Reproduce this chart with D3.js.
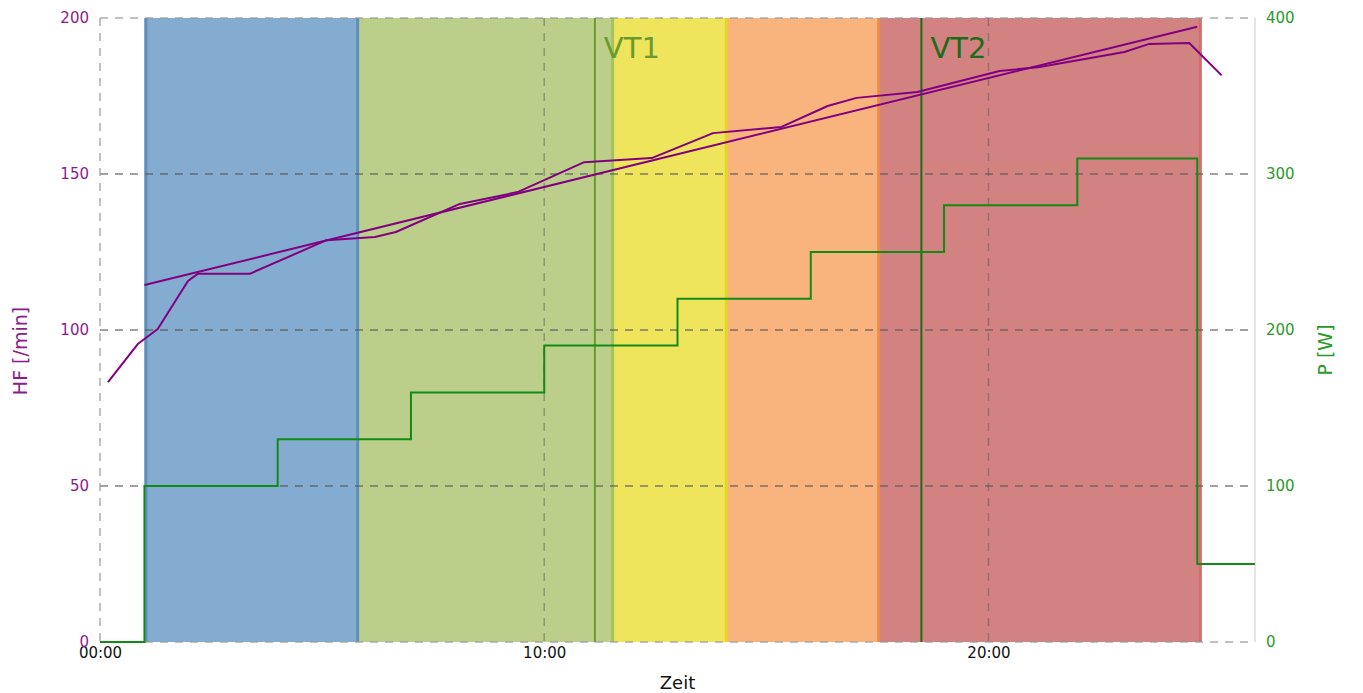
<!DOCTYPE html>
<html>
<head>
<meta charset="utf-8">
<script src="https://cdn.jsdelivr.net/npm/d3@7"></script>
<style>
  body { margin: 0; background: #fff; }
  svg { display: block; font-family: "DejaVu Sans", Verdana, sans-serif; }
</style>
</head>
<body>
<svg id="chart" width="1363" height="693"></svg>
<script>
// heart rate (minutes, bpm)
const hrTime = [0.18, 0.85, 1.3, 1.98, 2.2, 3.37, 5.1, 6.19, 6.66, 8.1, 9.4, 10.9, 12.42, 13.8, 15.34, 16.38, 17.03, 18.4, 20.25, 21.15, 23.06, 23.62, 24.52, 25.25];
const hrValue = [83.3, 95.5, 100.3, 115.7, 118, 118, 128.8, 129.8, 131.4, 140.4, 144.2, 153.8, 155.1, 163.1, 165.1, 171.8, 174.4, 176.3, 183, 184.3, 189.1, 191.7, 192, 181.6];

// regression line of heart rate
const trendTime = [1.0, 24.7];
const trendValue = [114.4, 197.2];

// power steps (minutes, watt)
const powerTime = [0, 1, 4, 7, 10, 13, 16, 19, 22, 24.7, 26];
const powerValue = [0, 100, 130, 160, 190, 220, 250, 280, 310, 50, 50];

// training zones
const zoneStart = [1.0, 5.8, 11.54, 14.1, 17.53];
const zoneEnd = [5.8, 11.54, 14.1, 17.53, 24.77];
const zoneFill = ["#83acd0", "#bccf8a", "#eee55c", "#f9b47e", "#d38282"];
const zoneEdge = ["#5e8fbc", "#a6c25c", "#e9d322", "#ef8b4a", "#d06e6e"];

// thresholds
const vtNames = ["VT1", "VT2"];
const vtTime = [11.14, 18.49];
const vtColor = ["#6b9a2c", "#1b6c1b"];

const xTicks = [0, 10, 20];
const hrTicks = [0, 50, 100, 150, 200];
const powerTicks = [0, 100, 200, 300, 400];

const svg = d3.select("#chart");
const mLeft = 100, mRight = 1255, mTop = 18, mBottom = 642;

const x = d3.scaleLinear().domain([0, 26]).range([mLeft, mRight]);
const yHr = d3.scaleLinear().domain([0, 200]).range([mBottom, mTop]);
const yP = d3.scaleLinear().domain([0, 400]).range([mBottom, mTop]);

const purple = "#800080";
const pColor = "#138a13";

// zones
const zones = zoneStart.map((s, i) => ({ s: s, e: zoneEnd[i], fill: zoneFill[i], edge: zoneEdge[i] }));
svg.selectAll(".zone")
  .data(zones)
  .enter()
  .append("rect")
  .attr("class", "zone")
  .attr("x", (d) => x(d.s))
  .attr("y", mTop)
  .attr("width", (d) => x(d.e) - x(d.s))
  .attr("height", mBottom - mTop)
  .attr("fill", (d) => d.fill);

// darker right edges of the zones (plus the left edge of the first one)
svg.selectAll(".zone-edge")
  .data(zones)
  .enter()
  .append("line")
  .attr("x1", (d) => x(d.e))
  .attr("x2", (d) => x(d.e))
  .attr("y1", mTop)
  .attr("y2", mBottom)
  .attr("stroke", (d) => d.edge)
  .attr("stroke-width", 3);
svg.append("line")
  .attr("x1", x(zoneStart[0]) + 1.5)
  .attr("x2", x(zoneStart[0]) + 1.5)
  .attr("y1", mTop)
  .attr("y2", mBottom)
  .attr("stroke", zoneEdge[0])
  .attr("stroke-width", 3);

// grid
svg.append("g")
  .selectAll("line")
  .data(hrTicks)
  .enter()
  .append("line")
  .attr("x1", mLeft)
  .attr("x2", mRight)
  .attr("y1", (d) => yHr(d))
  .attr("y2", (d) => yHr(d))
  .attr("stroke", (d) => (d === 0 || d === 200 ? "#999" : "#555"))
  .attr("stroke-opacity", (d) => (d === 0 || d === 200 ? 0.8 : 0.75))
  .attr("stroke-width", 1.5)
  .attr("stroke-dasharray", "8,7");

svg.append("g")
  .selectAll("line")
  .data(xTicks)
  .enter()
  .append("line")
  .attr("x1", (d) => x(d))
  .attr("x2", (d) => x(d))
  .attr("y1", mTop)
  .attr("y2", mBottom)
  .attr("stroke", (d) => (d === 0 ? "#999" : "#555"))
  .attr("stroke-opacity", (d) => (d === 0 ? 0.8 : 0.45))
  .attr("stroke-width", 1.5)
  .attr("stroke-dasharray", "8,7");

svg.append("line")
  .attr("x1", mRight)
  .attr("x2", mRight)
  .attr("y1", mTop)
  .attr("y2", mBottom)
  .attr("stroke", "#dcdcdc")
  .attr("stroke-width", 1.5);

// thresholds
vtNames.forEach((name, i) => {
  svg.append("line")
    .attr("x1", x(vtTime[i]))
    .attr("x2", x(vtTime[i]))
    .attr("y1", mTop)
    .attr("y2", mBottom)
    .attr("stroke", vtColor[i])
    .attr("stroke-width", 2);
  svg.append("text")
    .attr("x", x(vtTime[i]) + 9)
    .attr("y", 58)
    .attr("font-size", "29px")
    .attr("fill", vtColor[i])
    .text(name);
});

// power
const powerLine = d3.line()
  .x((d) => x(d[0]))
  .y((d) => yP(d[1]))
  .curve(d3.curveStepAfter);
svg.append("path")
  .datum(powerTime.map((t, i) => [t, powerValue[i]]))
  .attr("d", powerLine)
  .attr("fill", "none")
  .attr("stroke", pColor)
  .attr("stroke-width", 2);

// heart rate and trend
const hrLine = d3.line()
  .x((d) => x(d[0]))
  .y((d) => yHr(d[1]));
svg.append("path")
  .datum(trendTime.map((t, i) => [t, trendValue[i]]))
  .attr("d", hrLine)
  .attr("fill", "none")
  .attr("stroke", purple)
  .attr("stroke-width", 2);
svg.append("path")
  .datum(hrTime.map((t, i) => [t, hrValue[i]]))
  .attr("d", hrLine)
  .attr("fill", "none")
  .attr("stroke", purple)
  .attr("stroke-width", 2)
  .attr("stroke-linejoin", "round");

// axes
const fmt = (m) => d3.format("02d")(m) + ":00";
svg.append("g")
  .attr("transform", `translate(0,${mBottom})`)
  .call(d3.axisBottom(x).tickValues(xTicks).tickFormat(fmt).tickSize(0).tickPadding(5))
  .call((g) => g.select(".domain").remove())
  .call((g) => g.selectAll("text").style("font-size", "15px").attr("fill", "#111").style("font-family", "DejaVu Sans"));

svg.append("g")
  .attr("transform", `translate(${mLeft},0)`)
  .call(d3.axisLeft(yHr).tickValues(hrTicks).tickSize(0).tickPadding(11))
  .call((g) => g.select(".domain").remove())
  .call((g) => g.selectAll("text").style("font-size", "15px").attr("fill", "#8b1c8b").style("font-family", "DejaVu Sans"));

svg.append("g")
  .attr("transform", `translate(${mRight},0)`)
  .call(d3.axisRight(yP).tickValues(powerTicks).tickSize(0).tickPadding(11))
  .call((g) => g.select(".domain").remove())
  .call((g) => g.selectAll("text").style("font-size", "15px").attr("fill", "#2a9a2a").style("font-family", "DejaVu Sans"));

// axis titles
svg.append("text")
  .attr("x", (mLeft + mRight) / 2)
  .attr("y", 689)
  .attr("text-anchor", "middle")
  .attr("font-size", "18px")
  .attr("fill", "#111")
  .text("Zeit");

svg.append("text")
  .attr("transform", "translate(27,351) rotate(-90)")
  .attr("text-anchor", "middle")
  .attr("font-size", "19px")
  .attr("fill", "#8b1c8b")
  .text("HF [/min]");

svg.append("text")
  .attr("transform", "translate(1332,350) rotate(-90)")
  .attr("text-anchor", "middle")
  .attr("font-size", "19px")
  .attr("fill", "#2a9a2a")
  .text("P [W]");
</script>
</body>
</html>
